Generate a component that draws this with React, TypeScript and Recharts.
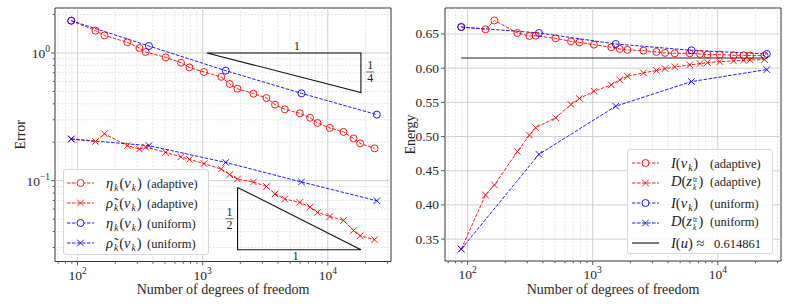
import { LineChart, Line, XAxis, YAxis, ReferenceLine, ReferenceArea, ReferenceDot } from "recharts";

const SERIF = "'Liberation Serif', 'DejaVu Serif', serif";
const RED = "#ff0000";
const BLUE = "#0000ff";

// degrees of freedom
const dofAdaptive = [89, 139, 164, 250, 312, 350, 506, 671, 783, 1024, 1406, 1644, 1895, 2544, 3233, 3787, 4529, 5970, 7218, 8272, 10375, 13355, 16057, 18133, 23640];
const dofUniform = [89, 372, 1528, 6161, 24660];

// left panel: error estimators
const etaAdaptive = [1.79, 1.495, 1.373, 1.211, 1.094, 1.018, 0.924, 0.839, 0.771, 0.71, 0.65, 0.572, 0.525, 0.48, 0.444, 0.394, 0.362, 0.337, 0.311, 0.283, 0.259, 0.241, 0.214, 0.196, 0.179];
const rhoAdaptive = [0.212, 0.203, 0.233, 0.188, 0.177, 0.183, 0.1666, 0.154, 0.147, 0.136, 0.1235, 0.1114, 0.103, 0.0977, 0.0902, 0.0787, 0.0719, 0.0676, 0.0622, 0.0565, 0.0525, 0.0489, 0.0408, 0.0371, 0.0345];
const etaUniform = [1.79, 1.134, 0.727, 0.483, 0.329];
const rhoUniform = [0.212, 0.188, 0.139, 0.0977, 0.0697];

// right panel: energies
const energyAdaptive = [0.6602, 0.6567, 0.6698, 0.6515, 0.6471, 0.6475, 0.6436, 0.6392, 0.6377, 0.6344, 0.6305, 0.6281, 0.6267, 0.6256, 0.6237, 0.6223, 0.6217, 0.6217, 0.6208, 0.6198, 0.6198, 0.6188, 0.6188, 0.6184, 0.6184];
const dualAdaptive = [0.3354, 0.4146, 0.4292, 0.4781, 0.5021, 0.5129, 0.5275, 0.5469, 0.5556, 0.5663, 0.5756, 0.5829, 0.5882, 0.5931, 0.5965, 0.5994, 0.6019, 0.6048, 0.6067, 0.6081, 0.6096, 0.6106, 0.6115, 0.6121, 0.6125];
const energyUniform = [0.6602, 0.6515, 0.6354, 0.6261, 0.6208];
const dualUniform = [0.3354, 0.474, 0.5444, 0.5804, 0.5979];
const exactEnergy = 0.614861;

// slope triangles (closed polygons)
const triQuarterX = [1080, 18400, 18400, 1080];
const triQuarterY = [1, 1, 0.491, 1];
const triHalfX = [1900, 1900, 18400, 1900];
const triHalfY = [0.0886, 0.0288, 0.0288, 0.0886];

// axes
const xDomain = [66, 32000];
const xMajor = [100, 1000, 10000];
const xMinor = [70, 80, 90, 200, 300, 400, 500, 600, 700, 800, 900, 2000, 3000, 4000, 5000, 6000, 7000, 8000, 9000, 20000, 30000];
const errDomain = [0.0233, 2.25];
const errMajor = [0.1, 1];
const errMinor = [0.03, 0.04, 0.05, 0.06, 0.07, 0.08, 0.09, 0.2, 0.3, 0.4, 0.5, 0.6, 0.7, 0.8, 0.9, 2];
const enDomain = [0.318, 0.688];
const enTicks = [0.35, 0.4, 0.45, 0.5, 0.55, 0.6, 0.65];

const zip = (xs: number[], ys: number[]) => xs.map((x, i) => ({ x, y: ys[i] }));

const isMajor = (v: number) => Math.abs(Math.log10(v) - Math.round(Math.log10(v))) < 1e-9;
const expLabel = (v: number) => {
  const e = Math.round(Math.log10(v));
  return e < 0 ? "\u2212" + Math.abs(e) : String(e);
};

function LogXTick(props: any) {
  const { x, y, payload } = props;
  const major = isMajor(payload.value);
  return (
    <g>
      <line x1={x} x2={x} y1={y} y2={y + (major ? 4 : 2.3)} stroke="#333" strokeWidth={0.8} />
      {major && (
        <text x={x} y={y + 18} textAnchor="middle" fontFamily={SERIF} fontSize={13.5} fill="#262626">
          10<tspan dy={-6} fontSize={9.5}>{expLabel(payload.value)}</tspan>
        </text>
      )}
    </g>
  );
}

function LogYTick(props: any) {
  const { x, y, payload } = props;
  const major = isMajor(payload.value);
  return (
    <g>
      <line x1={x} x2={x - (major ? 4 : 2.3)} y1={y} y2={y} stroke="#333" strokeWidth={0.8} />
      {major && (
        <text x={x - 5} y={y + 5} textAnchor="end" fontFamily={SERIF} fontSize={13.5} fill="#262626">
          10<tspan dy={-6} fontSize={9.5}>{expLabel(payload.value)}</tspan>
        </text>
      )}
    </g>
  );
}

function LinYTick(props: any) {
  const { x, y, payload } = props;
  return (
    <g>
      <line x1={x} x2={x - 4} y1={y} y2={y} stroke="#333" strokeWidth={0.8} />
      <text x={x - 6} y={y + 4.5} textAnchor="end" fontFamily={SERIF} fontSize={13.5} fill="#262626">
        {payload.value.toFixed(2)}
      </text>
    </g>
  );
}

const circleDot = (color: string) => (p: any) => (
  <circle key={`c${p.index}`} cx={p.cx} cy={p.cy} r={3.5} fill="none" stroke={color} strokeWidth={0.9} />
);
const crossDot = (color: string) => (p: any) => (
  <path
    key={`x${p.index}`}
    d={`M${p.cx - 3.3},${p.cy - 3.3}L${p.cx + 3.3},${p.cy + 3.3}M${p.cx - 3.3},${p.cy + 3.3}L${p.cx + 3.3},${p.cy - 3.3}`}
    stroke={color}
    strokeWidth={0.9}
    fill="none"
  />
);

const Fraction = (num: string, den: string) => (p: any) => (
  <g>
    <text x={p.cx} y={p.cy - 2.5} textAnchor="middle" fontFamily={SERIF} fontSize={12} fill="#222">{num}</text>
    <line x1={p.cx - 4} x2={p.cx + 4} y1={p.cy} y2={p.cy} stroke="#222" strokeWidth={0.7} />
    <text x={p.cx} y={p.cy + 10.5} textAnchor="middle" fontFamily={SERIF} fontSize={12} fill="#222">{den}</text>
  </g>
);
const Plain = (txt: string, dy: number) => (p: any) => (
  <text x={p.cx} y={p.cy + dy} textAnchor="middle" fontFamily={SERIF} fontSize={12.5} fill="#222">{txt}</text>
);

const seriesProps = (color: string) => ({
  type: "linear" as const,
  dataKey: "y",
  stroke: color,
  strokeWidth: 0.9,
  strokeDasharray: "3.5 1.5",
  isAnimationActive: false,
  activeDot: false as const,
});

const gridMinor = { stroke: "#d9d9d9", strokeWidth: 0.7, strokeDasharray: "2 1.5" };
const gridMajor = { stroke: "#c8c8c8", strokeWidth: 0.9 };

function ErrorChart() {
  return (
    <LineChart width={395} height={304} margin={{ top: 8, right: 4, bottom: 0, left: 0 }}>
      <XAxis
        dataKey="x" type="number" scale="log" domain={xDomain} allowDataOverflow
        ticks={[...xMinor, ...xMajor].sort((a, b) => a - b)} interval={0}
        axisLine={false} tickLine={false} tickSize={0} tickMargin={0} height={42.5}
        tick={<LogXTick />}
        label={{ value: "Number of degrees of freedom", position: "insideBottom", offset: 10, fontFamily: SERIF, fontSize: 14, fill: "#262626" }}
      />
      <YAxis
        dataKey="y" type="number" scale="log" domain={errDomain} allowDataOverflow
        ticks={[...errMinor, ...errMajor].sort((a, b) => a - b)} interval={0}
        axisLine={false} tickLine={false} tickSize={0} tickMargin={0} width={55}
        tick={<LogYTick />}
        label={{ value: "Error", angle: -90, position: "insideLeft", offset: 20, style: { textAnchor: "middle" }, fontFamily: SERIF, fontSize: 14, fill: "#262626" }}
      />
      {xMinor.map((v) => <ReferenceLine key={`xm${v}`} x={v} {...gridMinor} />)}
      {errMinor.map((v) => <ReferenceLine key={`ym${v}`} y={v} {...gridMinor} />)}
      {xMajor.map((v) => <ReferenceLine key={`xM${v}`} x={v} {...gridMajor} />)}
      {errMajor.map((v) => <ReferenceLine key={`yM${v}`} y={v} {...gridMajor} />)}
      <ReferenceArea x1={xDomain[0]} x2={xDomain[1]} y1={errDomain[0]} y2={errDomain[1]} fill="none" stroke="#333" strokeWidth={1} />

      <Line data={zip(dofAdaptive, etaAdaptive)} {...seriesProps(RED)} dot={circleDot(RED)} />
      <Line data={zip(dofAdaptive, rhoAdaptive)} {...seriesProps(RED)} dot={crossDot(RED)} />
      <Line data={zip(dofUniform, etaUniform)} {...seriesProps(BLUE)} dot={circleDot(BLUE)} />
      <Line data={zip(dofUniform, rhoUniform)} {...seriesProps(BLUE)} dot={crossDot(BLUE)} />

      <Line data={zip(triQuarterX, triQuarterY)} type="linear" dataKey="y" stroke="#111" strokeWidth={1.1} dot={false} activeDot={false} isAnimationActive={false} />
      <Line data={zip(triHalfX, triHalfY)} type="linear" dataKey="y" stroke="#111" strokeWidth={1.1} dot={false} activeDot={false} isAnimationActive={false} />
      <ReferenceDot x={5650} y={1} r={0} shape={Plain("1", -3)} />
      <ReferenceDot x={21800} y={0.71} r={0} shape={Fraction("1", "4")} />
      <ReferenceDot x={1636} y={0.0504} r={0} shape={Fraction("1", "2")} />
      <ReferenceDot x={5520} y={0.0288} r={0} shape={Plain("1", 10)} />
    </LineChart>
  );
}

function EnergyChart() {
  return (
    <LineChart width={395} height={304} margin={{ top: 8, right: 9, bottom: 0, left: 0 }}>
      <XAxis
        dataKey="x" type="number" scale="log" domain={xDomain} allowDataOverflow
        ticks={[...xMinor, ...xMajor].sort((a, b) => a - b)} interval={0}
        axisLine={false} tickLine={false} tickSize={0} tickMargin={0} height={43}
        tick={<LogXTick />}
        label={{ value: "Number of degrees of freedom", position: "insideBottom", offset: 10, fontFamily: SERIF, fontSize: 14, fill: "#262626" }}
      />
      <YAxis
        dataKey="y" type="number" domain={enDomain} allowDataOverflow
        ticks={enTicks} interval={0}
        axisLine={false} tickLine={false} tickSize={0} tickMargin={0} width={50}
        tick={<LinYTick />}
        label={{ value: "Energy", angle: -90, position: "insideLeft", offset: 15, style: { textAnchor: "middle" }, fontFamily: SERIF, fontSize: 14, fill: "#262626" }}
      />
      {xMinor.map((v) => <ReferenceLine key={`xm${v}`} x={v} {...gridMinor} />)}
      {xMajor.map((v) => <ReferenceLine key={`xM${v}`} x={v} {...gridMajor} />)}
      {enTicks.map((v) => <ReferenceLine key={`yM${v}`} y={v} {...gridMajor} />)}
      <ReferenceArea x1={xDomain[0]} x2={xDomain[1]} y1={enDomain[0]} y2={enDomain[1]} fill="none" stroke="#333" strokeWidth={1} />

      <Line data={zip(dofAdaptive, energyAdaptive)} {...seriesProps(RED)} dot={circleDot(RED)} />
      <Line data={zip(dofAdaptive, dualAdaptive)} {...seriesProps(RED)} dot={crossDot(RED)} />
      <Line data={zip(dofUniform, energyUniform)} {...seriesProps(BLUE)} dot={circleDot(BLUE)} />
      <Line data={zip(dofUniform, dualUniform)} {...seriesProps(BLUE)} dot={crossDot(BLUE)} />
      <Line
        data={zip([dofAdaptive[0], dofAdaptive[dofAdaptive.length - 1]], [exactEnergy, exactEnergy])}
        type="linear" dataKey="y" stroke="#222" strokeWidth={1.2} dot={false} activeDot={false} isAnimationActive={false}
      />
    </LineChart>
  );
}

type Entry = { color: string; marker: "o" | "x" | "none"; label: any };

function LegendBox({ left, top, width, height, entries, lineX }: { left: number; top: number; width: number; height: number; entries: Entry[]; lineX: number }) {
  return (
    <div
      style={{
        position: "absolute", left, top, width, height, boxSizing: "border-box",
        border: "1px solid #d6d6d6", borderRadius: 3, background: "rgba(255,255,255,0.85)",
        fontFamily: SERIF, fontSize: 12.5, color: "#222",
      }}
    >
      {entries.map((e, i) => (
        <div key={i} style={{ position: "absolute", left: lineX, top: 4 + i * 20, height: 18, display: "flex", alignItems: "center", whiteSpace: "nowrap" }}>
          <svg width={27} height={18} style={{ marginRight: 12, flex: "none" }}>
            {e.marker === "none" ? (
              <line x1={0} x2={27} y1={9} y2={9} stroke={e.color} strokeWidth={1.2} />
            ) : (
              <line x1={0} x2={27} y1={9} y2={9} stroke={e.color} strokeWidth={0.9} strokeDasharray="3.5 1.5" />
            )}
            {e.marker === "o" && <circle cx={13.5} cy={9} r={3.5} fill="white" stroke={e.color} strokeWidth={0.9} />}
            {e.marker === "x" && (
              <path d="M10.2,5.7L16.8,12.3M10.2,12.3L16.8,5.7" stroke={e.color} strokeWidth={0.9} />
            )}
          </svg>
          <span>{e.label}</span>
        </div>
      ))}
    </div>
  );
}

const Sub = ({ children }: { children: any }) => (
  <span style={{ fontSize: 9.5, position: "relative", top: 3, margin: "0 1px" }}>{children}</span>
);
const MathBox = ({ width, children }: { width: number; children: any }) => (
  <span style={{ display: "inline-block", width, fontSize: 14.5 }}>{children}</span>
);
const Eta = () => (<MathBox width={41}><i>η</i><Sub><i>k</i></Sub>(<i>v</i><Sub><i>k</i></Sub>)</MathBox>);
const Rho = () => (<MathBox width={41}><i>ρ̃</i><Sub><i>k</i></Sub>(<i>v</i><Sub><i>k</i></Sub>)</MathBox>);
const Ivk = () => (<MathBox width={39}><i>I</i>(<i>v</i><Sub><i>k</i></Sub>)</MathBox>);
const Dz = () => (
  <MathBox width={39}>
    <i>D</i>(<i>z</i>
    <span style={{ display: "inline-flex", flexDirection: "column", fontSize: 7.5, lineHeight: "8.5px", verticalAlign: 4.5, margin: "0 1px" }}>
      <span>tr</span><i>k</i>
    </span>)
  </MathBox>
);

const leftEntries: Entry[] = [
  { color: RED, marker: "o", label: <><Eta />(adaptive)</> },
  { color: RED, marker: "x", label: <><Rho />(adaptive)</> },
  { color: BLUE, marker: "o", label: <><Eta />(uniform)</> },
  { color: BLUE, marker: "x", label: <><Rho />(uniform)</> },
];
const rightEntries: Entry[] = [
  { color: RED, marker: "o", label: <><Ivk />(adaptive)</> },
  { color: RED, marker: "x", label: <><Dz />(adaptive)</> },
  { color: BLUE, marker: "o", label: <><Ivk />(uniform)</> },
  { color: BLUE, marker: "x", label: <><Dz />(uniform)</> },
  { color: "#222", marker: "none", label: <><MathBox width={43}><i>I</i>(<i>u</i>) ≈</MathBox>0.614861</> },
];

export default function App() {
  return (
    <div style={{ position: "absolute", left: 0, top: 0, width: 790, height: 304, background: "#fff" }}>
      <div style={{ position: "absolute", left: 0, top: 0 }}>
        <ErrorChart />
      </div>
      <div style={{ position: "absolute", left: 395, top: 0 }}>
        <EnergyChart />
      </div>
      <LegendBox left={63} top={169} width={146} height={86} entries={leftEntries} lineX={3} />
      <LegendBox left={627} top={149} width={146} height={105} entries={rightEntries} lineX={4} />
    </div>
  );
}
